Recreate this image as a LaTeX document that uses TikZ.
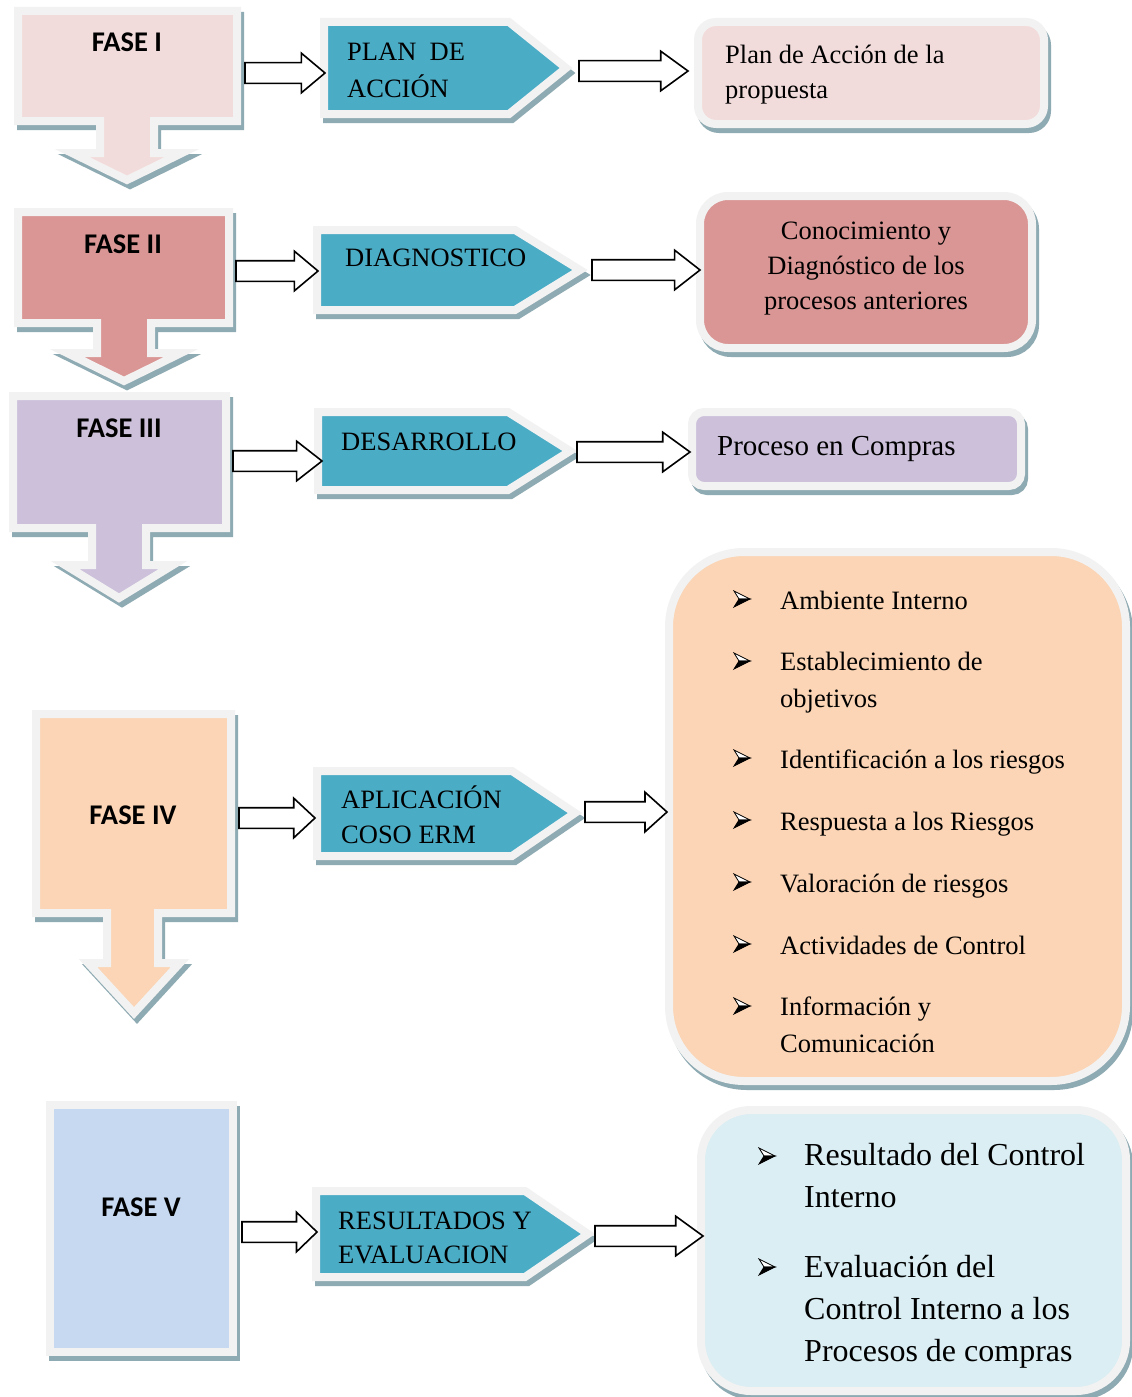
\documentclass[tikz,border=0pt]{standalone}
\usepackage{fontspec}
\setmainfont{Liberation Serif}
\newfontfamily\calibri{Carlito}
\usetikzlibrary{shapes.arrows}
\definecolor{gborder}{HTML}{F2F2F2}
\definecolor{shad}{HTML}{8EAAB2}
\definecolor{cI}{HTML}{F2DCDB}
\definecolor{cII}{HTML}{D99694}
\definecolor{cIII}{HTML}{CCC0DA}
\definecolor{cIV}{HTML}{FBD5B5}
\definecolor{cV}{HTML}{C6D9F1}
\definecolor{cVb}{HTML}{DBEEF3}
\definecolor{pent}{HTML}{4BACC6}
\newcommand\mkshape[3][]{\path[shadowp,#1] #3; \path[panel=#2,#1] #3;}
\tikzset{
  panel/.style={fill=#1, draw=gborder, line width=8pt, line join=miter},
  shadowp/.style={fill=shad, draw=shad, line width=8pt, shift={(3,5)}},
  barrow/.style={single arrow, draw=black, fill=white, line width=1.6pt,
    inner xsep=0pt, inner ysep=9.5pt, single arrow head extend=9.5pt,
    minimum width=38pt, single arrow tip angle=#1, anchor=tail, outer sep=0pt},
  fase/.style={font=\calibri\bfseries\fontsize{28.5}{34}\selectfont, anchor=base, inner sep=0pt},
  ptext/.style={font=\fontsize{26.5}{36}\selectfont, anchor=base west, align=left, inner sep=0pt},
  btext/.style={font=\fontsize{26.5}{36.5}\selectfont, anchor=base west, align=left, inner sep=0pt},
  bbtext/.style={font=\fontsize{32}{42}\selectfont, anchor=base west, align=left, inner sep=0pt},
  bullet/.pic={
    \path[draw=black, fill=white, line width=0.8pt, line join=miter] (0,-8) -- (16,0) -- (5,0) -- cycle;
    \path[draw=black, fill=black, line width=0.8pt, line join=miter] (0,8) -- (16,0) -- (5,0) -- cycle;
  }
}
\begin{document}
\begin{tikzpicture}[x=1pt,y=-1pt]
\useasboundingbox (0,0) rectangle (1132,1397);
\fill[white] (0,0) rectangle (1132,1397);

% ---- Fase callouts
\mkshape{cI}{(18,11) -- (237,11) -- (237,121) -- (154,121) -- (154,153) -- (182,153) -- (127,180) -- (72,153) -- (100,153) -- (100,121) -- (18,121) -- cycle}
\mkshape{cII}{(18,212) -- (229,212) -- (229,323) -- (151,323) -- (151,353) -- (181,353) -- (124,381) -- (67,353) -- (97,353) -- (97,323) -- (18,323) -- cycle}
\mkshape{cIII}{(13,396) -- (226,396) -- (226,528) -- (146,528) -- (146,565) -- (173,565) -- (119,598) -- (65,565) -- (92,565) -- (92,528) -- (13,528) -- cycle}
\mkshape{cIV}{(36,714) -- (231,714) -- (231,913) -- (158,913) -- (158,963) -- (180,963) -- (134,1013) -- (88,963) -- (107,963) -- (107,913) -- (36,913) -- cycle}
\mkshape{cV}{(50,1105) rectangle (233,1352)}

\node[fase] (f1) at (127,52) {FASE I};
\node[fase] (f2) at (123,253) {FASE II};
\node[fase] (f3) at (119,437) {FASE III};
\node[fase] (f4) at (133,824) {FASE IV};
\node[fase] (f5) at (141,1216) {FASE V};

% ---- pentagons
\mkshape{pent}{(324,22) -- (509,22) -- (566,68) -- (509,114) -- (324,114) -- cycle}
\mkshape{pent}{(317,230) -- (515,230) -- (580,270) -- (515,310) -- (317,310) -- cycle}
\mkshape{pent}{(318,412) -- (508,412) -- (570,451) -- (508,490) -- (318,490) -- cycle}
\mkshape{pent}{(317,771) -- (512,771) -- (575,813) -- (512,856) -- (317,856) -- cycle}
\mkshape{pent}{(316,1191) -- (525,1191) -- (588,1234) -- (525,1277) -- (316,1277) -- cycle}

\node[ptext, font=\fontsize{26.5}{37}\selectfont] (p1) at (347,97) {PLAN\enspace DE\\ACCIÓN};
\node[ptext] (p2) at (345,266) {DIAGNOSTICO};
\node[ptext] (p3) at (341,450) {DESARROLLO};
\node[ptext, font=\fontsize{26.5}{35}\selectfont] (p4) at (341,843) {APLICACIÓN\\COSO ERM};
\node[ptext, font=\fontsize{26.5}{34}\selectfont] (p5) at (338,1263) {RESULTADOS Y\\EVALUACION};

% ---- result boxes
\mkshape[rounded corners=18pt]{cI}{(698,22) rectangle (1044,124)}
\mkshape[rounded corners=28pt]{cII}{(700,196) rectangle (1032,348)}
\mkshape[rounded corners=12pt]{cIII}{(692,412) rectangle (1021,486)}
\mkshape[rounded corners=75pt]{cIV}{(669,552) rectangle (1126,1081)}
\mkshape[rounded corners=50pt]{cVb}{(701,1110) rectangle (1126,1391)}

\node[ptext, font=\fontsize{26.5}{35}\selectfont] (r1) at (725,98) {Plan de Acción de la\\propuesta};
\node[font=\fontsize{26.5}{35}\selectfont, anchor=base, align=center, inner sep=0pt] (r2) at (866,309) {Conocimiento y\\Diagnóstico de los\\procesos anteriores};
\node[ptext, font=\fontsize{29}{35}\selectfont] (r3) at (717,455) {Proceso en Compras};

% box 4 list
\pic at (734,599) {bullet};
\node[btext] (t41) at (780,609) {Ambiente Interno};
\pic at (734,661) {bullet};
\node[btext] (t42) at (780,707) {Establecimiento de\\objetivos};
\pic at (734,758) {bullet};
\node[btext] (t43) at (780,768) {Identificación a los riesgos};
\pic at (734,820) {bullet};
\node[btext] (t44) at (780,830) {Respuesta a los Riesgos};
\pic at (734,882) {bullet};
\node[btext] (t45) at (780,892) {Valoración de riesgos};
\pic at (734,944) {bullet};
\node[btext] (t46) at (780,954) {Actividades de Control};
\pic at (734,1006) {bullet};
\node[btext] (t47) at (780,1052) {Información y\\Comunicación};

% box 5 list
\pic at (759,1156) {bullet};
\node[bbtext] (t51) at (804,1207) {Resultado del Control\\Interno};
\pic at (759,1267) {bullet};
\node[bbtext] (t52) at (804,1361) {Evaluación del\\Control Interno a los\\Procesos de compras};

% ---- block arrows
\node[barrow=80, minimum height=80pt] (a1) at (245,73) {};
\node[barrow=72, minimum height=109pt] (a2) at (579,71) {};
\node[barrow=80, minimum height=82pt] (a3) at (236,271) {};
\node[barrow=76, minimum height=108pt] (a4) at (592,270) {};
\node[barrow=76, minimum height=89pt] (a5) at (233,461) {};
\node[barrow=72, minimum height=113pt] (a6) at (577,452) {};
\node[barrow=86, minimum height=76pt] (a7) at (239,818) {};
\node[barrow=84, minimum height=82pt] (a8) at (585,812) {};
\node[barrow=88, minimum height=75pt] (a9) at (242,1232) {};
\node[barrow=72, minimum height=108pt] (a10) at (595,1236) {};
\end{tikzpicture}
\end{document}
